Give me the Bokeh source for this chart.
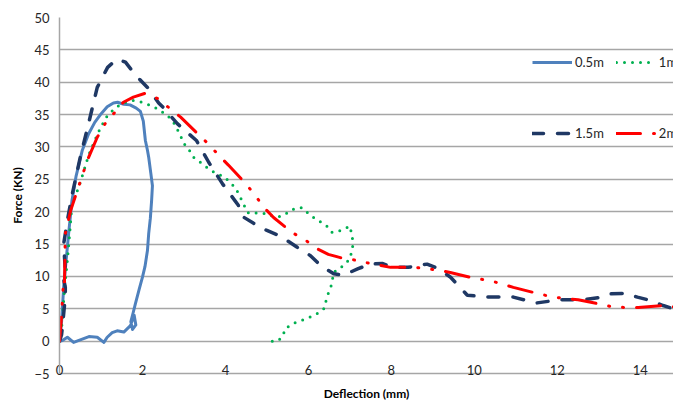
from bokeh.plotting import figure
from bokeh.models import Range1d, FixedTicker, Legend, LegendItem
from bokeh.embed import file_html
from bokeh.resources import INLINE

# ---- data ----
x_05 = [0.0, 0.05, 0.1, 0.16, 0.22, 0.3, 0.4, 0.55, 0.7, 0.85, 1.0, 1.15, 1.3, 1.4, 1.55, 1.7, 1.85, 1.95,
        2.02, 2.07, 2.12, 2.15, 2.2, 2.24, 2.22, 2.19, 2.15, 2.12, 2.06, 2.0, 1.92, 1.83, 1.78, 1.72, 1.76,
        1.84, 1.8, 1.71, 1.55, 1.39, 1.27, 1.15, 1.07, 0.91, 0.71, 0.5, 0.34, 0.19, 0.07, 0.02]
y_05 = [0.0, 3.0, 8.3, 12.5, 16.6, 21.7, 25.5, 29.5, 32.0, 33.8, 35.1, 36.2, 36.8, 36.9, 36.6, 36.5, 36.0, 35.5,
        34.0, 31.0, 29.5, 28.4, 26.0, 24.0, 21.7, 19.0, 16.6, 14.0, 11.5, 9.9, 8.0, 5.8, 4.5, 3.0, 1.8,
        2.5, 4.0, 2.4, 1.4, 1.6, 1.3, 0.6, -0.2, 0.6, 0.7, 0.2, -0.2, 0.6, 0.1, 0.0]

x_1 = [0.0, 0.04, 0.07, 0.12, 0.19, 0.25, 0.3, 0.39, 0.5, 0.7, 0.85, 0.99, 1.15, 1.35, 1.55, 1.78, 1.95, 2.12,
       2.3, 2.45, 2.6, 2.75, 2.9, 3.0, 3.1, 3.23, 3.4, 3.56, 3.7, 3.84, 4.0, 4.12, 4.25, 4.36, 4.45, 4.53, 4.6,
       4.75, 4.9, 5.0, 5.1, 5.25, 5.4, 5.57, 5.73, 5.85, 5.95, 6.05, 6.18, 6.3, 6.48, 6.57, 6.67, 6.77, 6.94,
       7.0, 7.06, 7.07, 7.06, 6.97, 6.85, 6.7, 6.6, 6.57, 6.5, 6.45, 6.37, 6.2, 5.97, 5.69, 5.45, 5.37, 5.25, 5.08]
y_1 = [0.0, 1.0, 3.7, 8.0, 12.5, 17.0, 21.2, 22.5, 24.5, 28.7, 31.0, 33.0, 34.8, 36.1, 36.8, 37.2, 37.0, 36.6,
       36.1, 35.5, 34.9, 33.8, 32.0, 30.5, 29.8, 28.4, 27.6, 26.8, 26.2, 25.8, 25.2, 24.5, 23.6, 22.2, 21.0, 19.9, 19.7,
       19.8, 19.7, 19.7, 19.4, 19.2, 19.4, 20.2, 20.6, 20.6, 20.0, 19.4, 18.9, 18.4, 17.6, 16.8, 16.9, 17.1, 17.6,
       17.8, 16.0, 15.0, 14.0, 12.5, 11.7, 11.0, 10.6, 8.9, 7.8, 6.8, 5.0, 4.2, 3.5, 2.9, 2.0, 0.6, 0.0, 0.0]

x_15 = [0.0, 0.05, 0.07, 0.14, 0.14, 0.1, 0.14, 0.1, 0.2, 0.31, 0.5, 0.7, 0.91, 1.16, 1.39, 1.59, 1.83, 2.12,
        2.39, 2.5, 2.84, 3.3, 3.6, 3.93, 4.31, 4.4, 4.68, 5.0, 5.33, 5.73, 6.05, 6.29, 6.61, 6.85, 7.2, 7.49,
        7.78, 8.05, 8.4, 8.86, 9.13, 9.42, 9.83, 10.3, 10.94, 11.5, 12.07, 12.63, 13.08, 13.28, 13.64, 13.93,
        14.24, 14.55, 14.8]
y_15 = [0.0, 1.0, 2.2, 6.8, 8.3, 9.6, 11.0, 15.0, 19.0, 22.8, 28.4, 33.6, 39.2, 42.3, 43.6, 43.1, 41.1, 39.2,
        36.8, 36.1, 33.6, 31.0, 27.6, 24.3, 21.0, 19.3, 18.2, 17.1, 16.2, 14.5, 13.2, 11.7, 10.4, 10.2, 11.2, 11.9,
        12.0, 11.4, 11.4, 11.9, 11.2, 9.9, 7.1, 6.8, 6.8, 5.9, 6.4, 6.4, 6.8, 7.3, 7.4, 6.8,
        6.3, 5.5, 5.0]

x_2 = [0.0, 0.04, 0.07, 0.1, 0.12, 0.14, 0.27, 0.43, 0.67, 0.91, 1.1, 1.3, 1.54, 1.78, 2.07, 2.36, 2.63, 2.92,
       3.32, 3.6, 3.84, 4.07, 4.48, 4.72, 4.92, 5.16, 5.6, 5.93, 6.2, 6.48, 6.77, 7.06, 7.33, 7.66, 7.98, 8.53,
       8.86, 9.18, 9.42, 10.0, 10.34, 10.63, 10.94, 11.5, 11.83, 12.15, 12.5, 12.96, 13.32, 13.64, 13.95, 14.53, 14.8]
y_2 = [0.0, 3.0, 6.3, 9.6, 9.0, 16.6, 20.2, 23.3, 27.9, 31.5, 33.6, 35.1, 36.9, 37.7, 38.3, 37.5, 36.1, 34.6,
       32.1, 30.4, 28.7, 27.2, 24.4, 22.5, 20.7, 19.1, 16.8, 15.6, 14.3, 13.4, 12.9, 12.6, 12.2, 11.8, 11.4, 11.4,
       11.2, 10.9, 10.6, 9.7, 9.4, 8.9, 8.3, 7.4, 6.9, 6.6, 6.4, 5.8, 5.3, 5.2, 5.2, 5.5, 5.3]

series_names = ["0.5m", "1m", "1.5m", "2m"]
x_ticks = [0, 2, 4, 6, 8, 10, 12, 14]
y_ticks = [-5, 0, 5, 10, 15, 20, 25, 30, 35, 40, 45, 50]

FONT = "Lato"
GRID = "#a6a6a6"

p = figure(width=673, height=403, x_range=Range1d(0, 14.8), y_range=Range1d(-5, 50),
           output_backend="svg", toolbar_location=None,
           min_border_left=59, min_border_right=0, min_border_top=17, min_border_bottom=30)
p.outline_line_color = None
p.background_fill_color = "white"
p.border_fill_color = "white"

p.xgrid.visible = False
p.ygrid.ticker = FixedTicker(ticks=y_ticks)
p.ygrid.grid_line_color = GRID
p.ygrid.grid_line_width = 1.5

p.xaxis.ticker = FixedTicker(ticks=x_ticks)
p.yaxis.ticker = FixedTicker(ticks=y_ticks)
for ax in (p.xaxis, p.yaxis):
    ax.axis_line_color = GRID
    ax.axis_line_width = 1.5
    ax.major_tick_line_color = None
    ax.minor_tick_line_color = None
    ax.major_tick_out = 0
    ax.major_tick_in = 0
    ax.major_label_text_font = FONT
    ax.major_label_text_font_size = "13px"
    ax.major_label_text_color = "#262626"
    ax.axis_label_text_font = FONT
    ax.axis_label_text_font_style = "bold"
    ax.axis_label_text_font_size = "12px"
    ax.axis_label_text_color = "#000000"

p.xaxis.axis_label = "Deflection (mm)"
p.yaxis.axis_label = "Force (KN)"
p.xaxis.major_label_standoff = -9
p.xaxis.axis_label_standoff = 8
p.yaxis.major_label_standoff = 10
p.yaxis.axis_label_standoff = 6

r05 = p.line(x_05, y_05, line_color="#4f81bd", line_width=3, line_join="round")
r1 = p.line(x_1, y_1, line_color="#00b050", line_width=3, line_dash="0 8", line_cap="round")
r15 = p.line(x_15, y_15, line_color="#1f3864", line_width=3.5, line_dash="11 14", line_cap="round")
r2 = p.line(x_2, y_2, line_color="#ff0000", line_width=3, line_dash="24 13 1 13 1 13", line_cap="round")

def mk_legend(items, loc):
    lg = Legend(items=items, location=loc, orientation="horizontal",
                background_fill_alpha=0, border_line_alpha=0, padding=0, margin=0,
                spacing=12, glyph_width=40, glyph_height=16, label_standoff=3,
                label_text_font=FONT, label_text_font_size="13px", label_text_color="#262626")
    return lg

lg1 = mk_legend([LegendItem(label=series_names[0], renderers=[r05]),
                 LegendItem(label=series_names[1], renderers=[r1])], (473, 303))
lg2 = mk_legend([LegendItem(label=series_names[2], renderers=[r15]),
                 LegendItem(label=series_names[3], renderers=[r2])], (473, 232))
p.add_layout(lg1)
p.add_layout(lg2)

open("out.html", "w").write(file_html(p, INLINE))
